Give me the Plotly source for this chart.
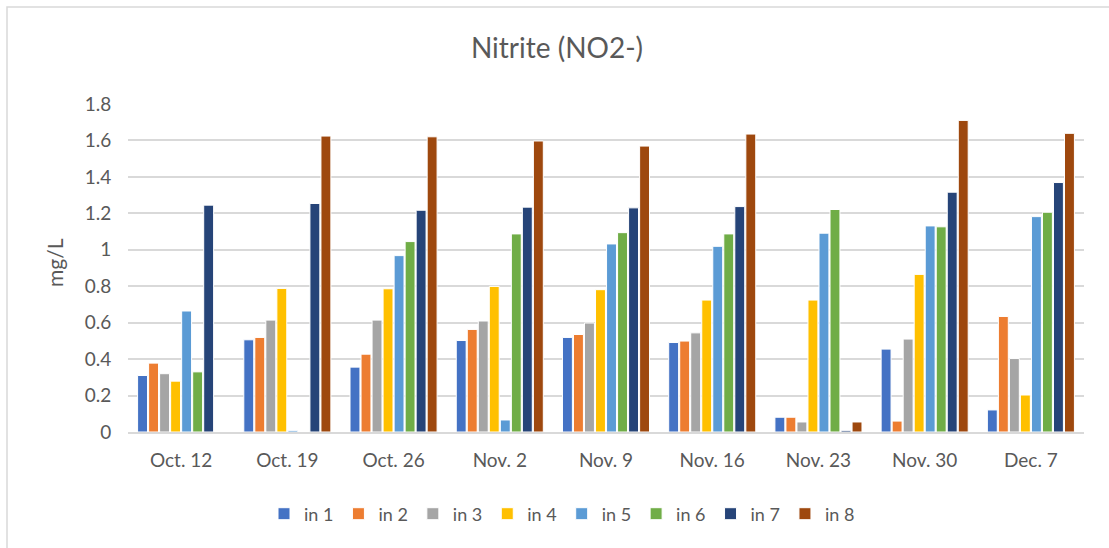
import plotly.graph_objects as go

categories = ["Oct. 12", "Oct. 19", "Oct. 26", "Nov. 2", "Nov. 9", "Nov. 16", "Nov. 23", "Nov. 30", "Dec. 7"]
in1 = [0.31, 0.506, 0.356, 0.502, 0.519, 0.491, 0.081, 0.455, 0.121]
in2 = [0.378, 0.519, 0.427, 0.563, 0.535, 0.499, 0.081, 0.06, 0.634]
in3 = [0.32, 0.614, 0.614, 0.609, 0.598, 0.544, 0.055, 0.51, 0.403]
in4 = [0.279, 0.788, 0.786, 0.799, 0.781, 0.724, 0.724, 0.865, 0.203]
in5 = [0.664, 0.009, 0.968, 0.066, 1.032, 1.019, 1.091, 1.131, 1.182]
in6 = [0.33, None, 1.045, 1.087, 1.094, 1.087, 1.221, 1.126, 1.206]
in7 = [1.245, 1.254, 1.217, 1.234, 1.23, 1.237, 0.009, 1.316, 1.369]
in8 = [None, 1.624, 1.62, 1.597, 1.569, 1.635, 0.055, 1.71, 1.639]
series_names = ["in 1", "in 2", "in 3", "in 4", "in 5", "in 6", "in 7", "in 8"]
series_values = [in1, in2, in3, in4, in5, in6, in7, in8]
colors = ["#4472C4", "#ED7D31", "#A5A5A5", "#FFC000", "#5B9BD5", "#70AD47", "#264478", "#9E480E"]
y_ticks = [0, 0.2, 0.4, 0.6, 0.8, 1, 1.2, 1.4, 1.6, 1.8]
y_tick_labels = ["0", "0.2", "0.4", "0.6", "0.8", "1", "1.2", "1.4", "1.6", "1.8"]

FONT = "Lato"
GRAY = "#595959"

fig = go.Figure()
for name, vals, col in zip(series_names, series_values, colors):
    fig.add_trace(go.Bar(x=categories, y=vals, name=name,
                         marker=dict(color=col, line=dict(color="white", width=1))))

W, H = 1109, 548
L, R, T, B = 128, 25, 104, 116
pw, ph = W - L - R, H - T - B

def px(x):
    return (x - L) / pw

def py(y):
    return (H - B - y) / ph

fig.update_layout(
    width=W, height=H,
    margin=dict(l=L, r=R, t=T, b=B),
    paper_bgcolor="white", plot_bgcolor="white",
    font=dict(family=FONT, color=GRAY, size=18),
    title=dict(text="Nitrite (NO2-)", x=557 / W, xref="container", xanchor="center",
               y=1 - 48 / H, yanchor="middle", yref="container",
               font=dict(size=28, color=GRAY, family=FONT)),
    barmode="group", bargap=0.17, bargroupgap=0.1,
    showlegend=True,
    legend=dict(orientation="h", x=px(562), xanchor="center", y=py(514), yanchor="middle",
                font=dict(size=18, color=GRAY, family=FONT), itemwidth=30,
                traceorder="normal", bgcolor="rgba(0,0,0,0)"),
    xaxis=dict(showgrid=False, showline=True, linecolor="#D9D9D9", linewidth=1.5,
               ticks="outside", ticklen=10, tickcolor="rgba(0,0,0,0)",
               tickfont=dict(size=19, color=GRAY)),
    yaxis=dict(range=[0, 1.8], tickvals=y_ticks, ticktext=y_tick_labels,
               showgrid=True, gridcolor="#D9D9D9", gridwidth=1.5, zeroline=False,
               showline=False, ticks="outside", ticklen=12, tickcolor="rgba(0,0,0,0)",
               tickfont=dict(size=19, color=GRAY)),
    annotations=[dict(text="mg/L", xref="paper", yref="paper", x=px(54), y=py(263),
                      xanchor="center", yanchor="middle", showarrow=False, textangle=-90,
                      font=dict(size=21, color=GRAY, family=FONT))],
    shapes=[dict(type="rect", xref="paper", yref="paper",
                 x0=px(7), x1=px(1120), y0=py(560), y1=py(7),
                 line=dict(color="#D9D9D9", width=1.5), fillcolor="rgba(0,0,0,0)", layer="below")],
)

fig.write_html("out.html", config={"displayModeBar": False},
               post_script="document.body.style.margin='0';")
